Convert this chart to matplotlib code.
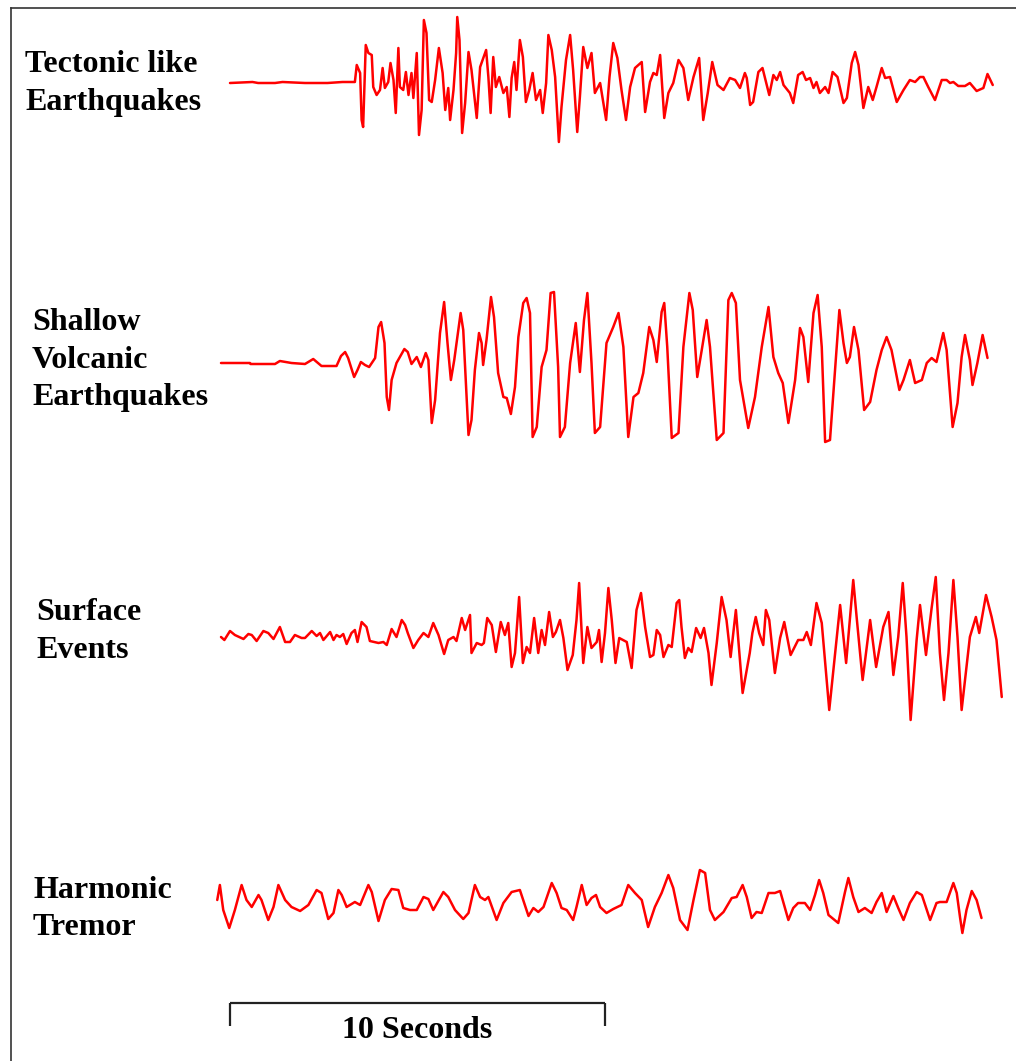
import numpy as np
import matplotlib
matplotlib.use("Agg")
import matplotlib.pyplot as plt
from matplotlib.lines import Line2D

# ---------------- data (time in seconds from the 10 s scale bar start, amplitude in arbitrary units, up = positive)
tectonic_t = [0.00, 0.60, 0.75, 1.20, 1.40, 2.00, 2.60, 3.00, 3.33, 3.38, 3.47, 3.51, 3.55, 3.62, 3.69, 3.78, 3.82, 3.91,
              4.00, 4.07, 4.13, 4.22, 4.28, 4.36, 4.42, 4.49, 4.53, 4.62, 4.69, 4.76, 4.84, 4.89, 4.98, 5.04,
              5.11, 5.17, 5.24, 5.31, 5.38, 5.47, 5.57, 5.67, 5.74, 5.82, 5.87, 5.96, 6.03, 6.06, 6.12, 6.19,
              6.27, 6.36, 6.44, 6.58, 6.67, 6.83, 6.89, 6.95, 7.02, 7.09, 7.18, 7.29, 7.38, 7.45, 7.51, 7.58,
              7.64, 7.73, 7.81, 7.89, 7.98, 8.07, 8.16, 8.27, 8.34, 8.43, 8.49, 8.58, 8.67, 8.77, 8.84, 8.96,
              9.07, 9.15, 9.26, 9.33, 9.42, 9.53, 9.64, 9.73, 9.87, 10.03, 10.12, 10.22, 10.33, 10.44, 10.56,
              10.67, 10.80, 10.98, 11.07, 11.20, 11.29, 11.38, 11.47, 11.58, 11.69, 11.82, 11.96, 12.09, 12.22,
              12.36, 12.51, 12.62, 12.74, 12.86, 13.00, 13.16, 13.33, 13.47, 13.60, 13.73, 13.78, 13.87, 13.95,
              14.09, 14.20, 14.38, 14.49, 14.58, 14.67, 14.76, 14.93, 15.02, 15.15, 15.27, 15.36, 15.47, 15.56,
              15.64, 15.73, 15.87, 15.96, 16.07, 16.20, 16.36, 16.45, 16.58, 16.67, 16.76, 16.89, 17.02, 17.14,
              17.24, 17.38, 17.47, 17.60, 17.78, 17.96, 18.13, 18.27, 18.40, 18.49, 18.62, 18.80, 18.98, 19.11,
              19.20, 19.29, 19.42, 19.60, 19.73, 19.91, 20.09, 20.20, 20.34]
tectonic_a = [0, 1, 0, 0, 1, 0, 0, 1, 1, 18, 10, -37, -44, 38, 30, 28, -4, -12,
              -7, 15, -5, 1, 20, 3, -30, 35, -4, -7, 11, -12, 10, -15, 30, -52,
              -27, 63, 50, -17, -19, 3, 35, 10, -27, -5, -37, -7, 30, 66, 43, -50,
              -20, 31, 13, -35, 16, 33, 6, -30, 26, -4, 6, -10, -4, -34, 5, 21,
              -7, 43, 26, -19, -7, 10, -17, -7, -30, 0, 48, 33, 6, -59, -24, 23,
              48, 13, -49, -14, 36, 15, 30, -10, 0, -37, 6, 40, 25, -7, -37,
              -4, 15, 21, -29, 1, 10, 8, 28, -35, -10, 0, 23, 15, -17,
              6, 25, -37, -10, 21, -2, -7, 5, 3, -5, 10, 5, -22, -19,
              11, 15, -12, 8, 3, 11, -2, -10, -20, 8, 11, 3, 5, -5,
              1, -10, -4, -10, 11, 6, -20, -15, 20, 31, 18, -25, -4, -17,
              -4, 15, 5, 6, -19, -7, 3, 1, 6, 6, -4, -17, 3, 3,
              0, 1, -3, -3, 0, -8, -5, 9, -2]

shallow_t = [-0.24, 0.53, 0.55, 1.20, 1.33, 1.64, 2.00, 2.22, 2.44, 2.84, 2.96, 3.07, 3.15, 3.31, 3.40, 3.49, 3.60,
             3.71, 3.87, 3.96, 4.03, 4.12, 4.18, 4.24, 4.31, 4.44, 4.65, 4.74, 4.84, 4.98, 5.09, 5.22, 5.29,
             5.38, 5.47, 5.60, 5.71, 5.80, 5.89, 5.98, 6.15, 6.22, 6.36, 6.44, 6.53, 6.64, 6.71, 6.75, 6.84,
             6.96, 7.04, 7.15, 7.29, 7.38, 7.49, 7.60, 7.69, 7.82, 7.91, 8.00, 8.07, 8.18, 8.31, 8.44, 8.55,
             8.64, 8.75, 8.80, 8.93, 9.07, 9.22, 9.33, 9.44, 9.53, 9.64, 9.73, 9.87, 10.04, 10.22, 10.36, 10.49,
             10.62, 10.76, 10.89, 11.02, 11.18, 11.29, 11.38, 11.51, 11.58, 11.66, 11.78, 11.96, 12.09, 12.25,
             12.34, 12.46, 12.58, 12.71, 12.80, 12.98, 13.16, 13.29, 13.38, 13.49, 13.60, 13.82, 14.00, 14.18,
             14.36, 14.49, 14.62, 14.74, 14.89, 15.07, 15.20, 15.29, 15.42, 15.56, 15.67, 15.78, 15.87, 16.00,
             16.13, 16.25, 16.36, 16.45, 16.53, 16.64, 16.76, 16.91, 17.07, 17.24, 17.38, 17.51, 17.64, 17.85,
             17.96, 18.13, 18.27, 18.45, 18.58, 18.71, 18.84, 19.02, 19.11, 19.27, 19.40, 19.51, 19.60, 19.73,
             19.80, 19.93, 20.07, 20.20]
shallow_a = [0, 0, -1, -1, 2, 0, -1, 4, -3, -3, 7, 11, 5, -14, -7, 1, -2,
             -4, 5, 36, 41, 20, -34, -47, -17, 0, 14, 11, -1, 6, -4, 10, 3,
             -60, -37, 30, 61, 20, -17, 3, 50, 33, -72, -57, -7, 30, 20, -2, 23,
             66, 46, -10, -34, -35, -51, -24, 26, 60, 65, 50, -74, -64, -4, 13, 70,
             71, -4, -74, -64, 0, 40, -9, 43, 70, 0, -70, -64, 20, 36, 50, 16,
             -74, -34, -30, -10, 36, 23, 1, 51, 60, 16, -75, -70, 16, 70,
             53, -14, 13, 43, 16, -77, -70, 63, 70, 60, -17, -65, -34, 16,
             56, 6, -10, -20, -60, -17, 35, 26, -19, 50, 68, 16, -79, -77,
             -10, 53, 20, 0, 6, 36, 13, -47, -39, -7, 13, 26, 13, -27,
             -17, 3, -20, -17, 0, 5, 1, 30, 13, -64, -40, 6, 28, 3,
             -22, 0, 28, 5]

surface_t = [-0.24, -0.15, 0.00, 0.13, 0.36, 0.49, 0.58, 0.71, 0.89, 1.02, 1.16, 1.33, 1.47, 1.60, 1.73, 1.91, 2.00,
             2.18, 2.31, 2.40, 2.49, 2.67, 2.76, 2.84, 2.93, 3.02, 3.11, 3.24, 3.33, 3.40, 3.51, 3.64, 3.73,
             3.96, 4.09, 4.18, 4.31, 4.44, 4.58, 4.67, 4.74, 4.89, 5.02, 5.16, 5.29, 5.42, 5.56, 5.71, 5.82,
             5.96, 6.04, 6.18, 6.27, 6.40, 6.44, 6.58, 6.71, 6.77, 6.86, 6.98, 7.09, 7.22, 7.33, 7.42, 7.51,
             7.60, 7.71, 7.81, 7.91, 8.00, 8.11, 8.22, 8.31, 8.40, 8.51, 8.61, 8.69, 8.80, 8.89, 9.00, 9.14,
             9.24, 9.31, 9.42, 9.53, 9.64, 9.78, 9.84, 9.91, 10.00, 10.09, 10.18, 10.28, 10.38, 10.58, 10.71,
             10.84, 10.96, 11.07, 11.20, 11.29, 11.38, 11.47, 11.56, 11.69, 11.78, 11.91, 11.98, 12.04, 12.13,
             12.22, 12.31, 12.43, 12.55, 12.64, 12.76, 12.84, 12.98, 13.11, 13.24, 13.35, 13.49, 13.67, 13.86,
             13.93, 14.02, 14.11, 14.22, 14.29, 14.38, 14.53, 14.67, 14.78, 14.95, 15.15, 15.29, 15.38, 15.49,
             15.64, 15.78, 15.98, 16.09, 16.27, 16.43, 16.62, 16.71, 16.87, 17.07, 17.23, 17.42, 17.56, 17.69,
             17.82, 17.94, 18.04, 18.15, 18.31, 18.40, 18.56, 18.71, 18.82, 18.93, 19.04, 19.16, 19.29, 19.40,
             19.51, 19.73, 19.89, 19.98, 20.16, 20.31, 20.44, 20.58]
surface_a = [1, -2, 7, 3, -1, 4, 3, -3, 7, 5, -1, 11, -4, -4, 3, 0, 0,
             7, 2, 5, -2, 6, -2, 3, 1, 4, -6, 5, 8, -4, 16, 11, -3,
             -5, -4, -7, 9, 1, 18, 13, 5, -10, -2, 5, 1, 15, 3, -16, -2,
             1, -3, 20, 8, 23, -15, -5, -7, -5, 20, 13, -14, 16, 3, 15, -29,
             -15, 41, -25, -9, -15, 20, -15, 8, -7, 26, 1, 6, 18, 0, -32, -17,
             18, 55, -25, 11, -10, -4, 8, -24, 5, 50, 18, -25, 0, -4, -30,
             28, 45, 11, -19, -17, 8, 3, -19, -7, -9, 35, 38, 11, -20,
             -10, -14, 10, 0, 10, -15, -47, -5, 41, 18, -19, 28, -55, -15,
             5, 21, 5, -7, 28, 18, -35, 0, 16, -17, -2, -2, 6, -7,
             35, 15, -72, -32, 33, -25, 58, 21, -42, 18, -29, 11, 26, -37,
             1, 55, 1, -82, -2, 33, -17, 30, 61, -15, -62, -15, 58, 1,
             -72, 1, 21, 5, 43, 21, -2, -59]

tremor_t = [-0.34, -0.27, -0.18, -0.02, 0.13, 0.31, 0.44, 0.58, 0.76, 0.84, 1.02, 1.16, 1.29, 1.47, 1.64, 1.87, 2.09,
            2.31, 2.44, 2.62, 2.76, 2.89, 2.98, 3.11, 3.33, 3.47, 3.69, 3.78, 3.96, 4.13, 4.31, 4.49, 4.62,
            4.80, 4.98, 5.16, 5.29, 5.42, 5.69, 5.82, 6.00, 6.22, 6.36, 6.53, 6.67, 6.80, 6.89, 7.11, 7.29,
            7.51, 7.73, 7.96, 8.09, 8.22, 8.36, 8.58, 8.71, 8.84, 8.98, 9.15, 9.24, 9.38, 9.51, 9.64, 9.76,
            9.87, 10.04, 10.22, 10.44, 10.62, 10.80, 10.98, 11.15, 11.33, 11.51, 11.69, 11.82, 12.00, 12.20,
            12.36, 12.53, 12.67, 12.80, 12.93, 13.16, 13.38, 13.51, 13.67, 13.78, 13.91, 14.04, 14.18, 14.36,
            14.53, 14.67, 14.76, 14.89, 15.02, 15.15, 15.33, 15.47, 15.60, 15.71, 15.82, 15.96, 16.22, 16.40,
            16.49, 16.62, 16.76, 16.93, 17.11, 17.24, 17.38, 17.51, 17.69, 17.82, 17.96, 18.13, 18.31, 18.45,
            18.67, 18.84, 18.93, 19.11, 19.29, 19.38, 19.47, 19.53, 19.64, 19.78, 19.91, 20.04]
tremor_a = [6, 21, -4, -22, -4, 21, 6, -1, 11, 6, -14, -1, 21, 6, -1, -5, 1,
            16, 13, -13, -7, 16, 11, -1, 4, 1, 21, 14, -15, 6, 17, 16, -2,
            -4, -4, 9, 7, -4, 14, 9, -4, -13, -7, 21, 9, 6, 9, -14, 3,
            14, 16, -10, -2, -6, -1, 23, 13, -2, -4, -14, -1, 21, 1, 8, 11,
            -1, -7, -3, 1, 21, 13, 6, -21, -1, 13, 31, 18, -14, -24,
            6, 36, 33, -4, -14, -6, 8, 9, 21, 9, -12, -6, -7, 13,
            13, 15, 3, -14, -2, 3, 3, -4, 11, 26, 13, -9, -17, 14,
            28, 9, -6, -2, -7, 4, 13, -6, 10, -2, -14, 3, 14, 11,
            -14, 3, 4, 4, 23, 13, -12, -27, -4, 15, 6, -12]

label_lines = [["Tectonic like", "Earthquakes"],
               ["Shallow", "Volcanic", "Earthquakes"],
               ["Surface", "Events"],
               ["Harmonic", "Tremor"]]
scale_seconds = 10
scale_label = "10 Seconds"

# ---------------- layout
W, H = 1016, 1061
PX_PER_S = 37.5
T0_PX = 230
baselines = [83, 363, 638, 906]          # vertical position of each trace (pixels from top)
label_x = [25, 32, 36, 33]
label_y0 = [65, 323, 613, 890]
line_step = 37.5

fig = plt.figure(figsize=(W / 100, H / 100), dpi=100)
ax = fig.add_axes([0, 0, 1, 1])
ax.set_xlim(-T0_PX / PX_PER_S, (W - T0_PX) / PX_PER_S)
ax.set_ylim(H, 0)
ax.axis("off")

red = "#ff0000"
series = [(tectonic_t, tectonic_a), (shallow_t, shallow_a), (surface_t, surface_a), (tremor_t, tremor_a)]
for (t, a), base in zip(series, baselines):
    t = np.asarray(t, float)
    a = np.asarray(a, float)
    ax.plot(t, base - a, color=red, lw=1.8, solid_joinstyle="round", solid_capstyle="round")

font = dict(family=["Liberation Serif", "DejaVu Serif"], weight="bold", size=23, color="black")
for lines, x, y0 in zip(label_lines, label_x, label_y0):
    for i, s in enumerate(lines):
        fig.text(x / W, 1 - (y0 + i * line_step) / H, s, ha="left", va="center", **font)

# scale bar
bar_y, tick_y = 1003, 1026
ax.plot([0, scale_seconds], [bar_y, bar_y], color="#222222", lw=1.6, solid_capstyle="butt")
ax.plot([0, 0], [bar_y, tick_y], color="#222222", lw=1.6, solid_capstyle="butt")
ax.plot([scale_seconds, scale_seconds], [bar_y, tick_y], color="#222222", lw=1.6, solid_capstyle="butt")
ax.text(scale_seconds / 2, 1030, scale_label, ha="center", va="center", **font)

# frame lines (left and top)
fig.add_artist(Line2D([10.5 / W, 10.5 / W], [0, 1 - 8 / H], color="#333333", lw=1.2))
fig.add_artist(Line2D([10.5 / W, 1], [1 - 8 / H, 1 - 8 / H], color="#333333", lw=1.2))

fig.savefig("out.png", dpi=100, facecolor="white")
